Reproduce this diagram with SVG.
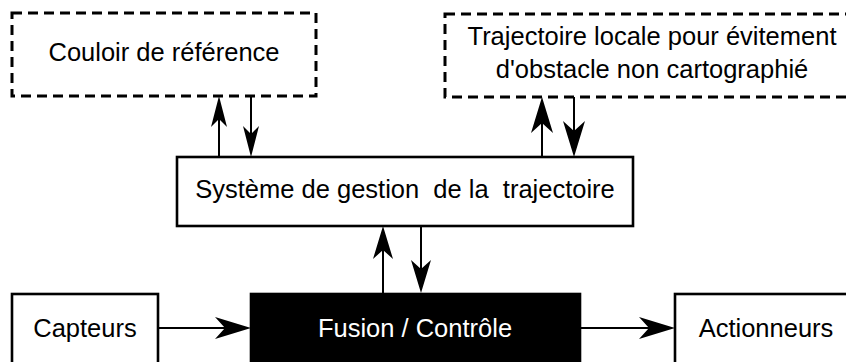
<svg xmlns="http://www.w3.org/2000/svg" width="846" height="362" viewBox="0 0 846 362">
  <style>
    .box { fill: #ffffff; stroke: #000000; stroke-width: 2.6; }
    .dash { fill: #ffffff; stroke: #000000; stroke-width: 3; stroke-dasharray: 10 6; }
    .dark { fill: #000000; stroke: #000000; stroke-width: 2.6; }
    .lbl { font-family: "Liberation Sans", Arial, sans-serif; font-size: 25.5px; fill: #000000; text-anchor: middle; }
    .wlbl { font-family: "Liberation Sans", Arial, sans-serif; font-size: 25.5px; fill: #ffffff; text-anchor: middle; }
    .conn { fill: none; stroke: #000000; stroke-width: 2; }
  </style>
  <defs>
    <marker id="ahS" markerUnits="userSpaceOnUse" markerWidth="31" markerHeight="16" viewBox="0 0 31 16" refX="23" refY="8" orient="auto">
      <path d="M0,0 L31,8 L0,16 L8,8 Z" fill="#000000"/>
    </marker>
    <marker id="ahM" markerUnits="userSpaceOnUse" markerWidth="33" markerHeight="20" viewBox="0 0 33 20" refX="24" refY="10" orient="auto">
      <path d="M0,0 L33,10 L0,20 L9,10 Z" fill="#000000"/>
    </marker>
    <marker id="ahL" markerUnits="userSpaceOnUse" markerWidth="36" markerHeight="22" viewBox="0 0 36 22" refX="26" refY="11" orient="auto">
      <path d="M0,0 L36,11 L0,22 L10,11 Z" fill="#000000"/>
    </marker>
  </defs>

  <g id="couloir">
    <rect class="dash" x="12" y="13" width="304" height="83"/>
    <text class="lbl" x="164" y="61">Couloir de référence</text>
  </g>

  <g id="trajectoire-locale">
    <rect class="dash" x="445" y="14" width="415" height="83"/>
    <text class="lbl" x="652" y="45">Trajectoire locale pour évitement</text>
    <text class="lbl" x="652" y="78">d'obstacle non cartographié</text>
  </g>

  <g id="systeme">
    <rect class="box" x="177" y="157" width="456" height="69"/>
    <text class="lbl" x="405" y="198" xml:space="preserve">Système de gestion  de la  trajectoire</text>
  </g>

  <g id="capteurs">
    <rect class="box" x="12" y="294" width="146" height="80"/>
    <text class="lbl" x="85" y="337">Capteurs</text>
  </g>

  <g id="fusion">
    <rect class="dark" x="251" y="294" width="329" height="80"/>
    <text class="wlbl" x="415" y="337">Fusion / Contrôle</text>
  </g>

  <g id="actionneurs">
    <rect class="box" x="675" y="294" width="182" height="80"/>
    <text class="lbl" x="766" y="337">Actionneurs</text>
  </g>

  <g id="connectors">
    <path class="conn" d="M219,157 L219,104" marker-end="url(#ahS)"/>
    <path class="conn" d="M251,96 L251,149" marker-end="url(#ahS)"/>
    <path class="conn" d="M542,157 L542,107" marker-end="url(#ahL)"/>
    <path class="conn" d="M574,97 L574,147" marker-end="url(#ahL)"/>
    <path class="conn" d="M383,318 L383,235" marker-end="url(#ahM)"/>
    <path class="conn" d="M421,226 L421,284" marker-end="url(#ahM)"/>
    <path class="conn" d="M158,328 L241,328" marker-end="url(#ahL)"/>
    <path class="conn" d="M530,328 L665,328" marker-end="url(#ahL)"/>
  </g>
</svg>
